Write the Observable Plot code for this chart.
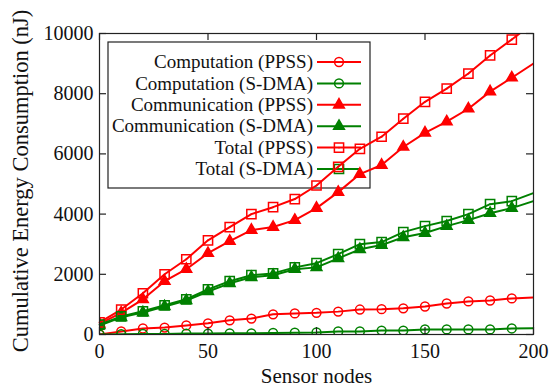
<!DOCTYPE html>
<html><head><meta charset="utf-8">
<script src="https://cdn.jsdelivr.net/npm/d3@7"></script>
<script src="https://cdn.jsdelivr.net/npm/@observablehq/plot@0.6"></script>
<style>body{margin:0;background:#fff}</style>
</head><body><div id="chart"></div>
<script>
// ---- data ----
const nodes = [0,10,20,30,40,50,60,70,80,90,100,110,120,130,140,150,160,170,180,190,200];
const compPPSS  = [0,100,200,230,300,370,470,530,670,700,720,760,830,840,870,930,1030,1100,1130,1200,1230];
const compSDMA  = [0,10,20,20,30,30,40,40,50,60,70,100,100,130,130,170,170,170,170,200,210];
const commPPSS  = [350,720,1170,1770,2170,2700,3100,3470,3570,3800,4200,4730,5330,5630,6230,6700,7070,7500,8070,8530,9000];
const commSDMA  = [300,570,730,930,1130,1430,1700,1900,1970,2170,2230,2530,2830,2970,3230,3370,3600,3800,4030,4200,4430];
const totalPPSS = [400,830,1370,2000,2500,3130,3570,4000,4230,4500,4950,5570,6170,6570,7170,7730,8170,8670,9270,9800,10350];
const totalSDMA = [330,600,770,970,1170,1500,1770,1970,2030,2230,2370,2670,3000,3070,3400,3600,3770,4000,4330,4430,4700];
const seriesNames = ["Computation (PPSS)","Computation (S-DMA)","Communication (PPSS)","Communication (S-DMA)","Total (PPSS)","Total (S-DMA)"];
const xTicks = [0,50,100,150,200];
const yTicks = [0,2000,4000,6000,8000,10000];
const xLabel = "Sensor nodes";
const yLabel = "Cumulative Energy Consumption (nJ)";

// ---- styling ----
const RED = "#ff0000", GREEN = "#008000";
const FONT = "'Liberation Serif', 'Times New Roman', serif";
const series = [
  {name: seriesNames[0], values: compPPSS,  color: RED,   symbol: "circle"},
  {name: seriesNames[1], values: compSDMA,  color: GREEN, symbol: "circle"},
  {name: seriesNames[2], values: commPPSS,  color: RED,   symbol: "triangle"},
  {name: seriesNames[3], values: commSDMA,  color: GREEN, symbol: "triangle"},
  {name: seriesNames[4], values: totalPPSS, color: RED,   symbol: "square"},
  {name: seriesNames[5], values: totalSDMA, color: GREEN, symbol: "square"}
];
const symR = {circle: 4.4, triangle: 4, square: 5.2};
const W = 549, H = 387, mL = 99, mR = 16, mT = 33, mB = 53;
const plotW = W - mL - mR, plotH = H - mT - mB;
const TL = 7;

const marks = [];
for (const s of series) {
  const data = nodes.map((x, i) => ({x, y: s.values[i]}));
  const pts = data.filter(d => d.x < 200);
  marks.push(Plot.line(data, {x: "x", y: "y", stroke: s.color, strokeWidth: 2, clip: true}));
  const filled = s.symbol === "triangle";
  marks.push(Plot.dot(pts, {x: "x", y: "y", symbol: s.symbol, r: symR[s.symbol],
    stroke: s.color, strokeWidth: 1.5, fill: filled ? s.color : "none", clip: true}));
  if (s.symbol === "square") {
    marks.push(Plot.dot(pts, {x: "x", y: "y", r: 0.9, fill: s.color, stroke: "none"}));
  }
}

const chart = Plot.plot({
  width: W, height: H,
  marginLeft: mL, marginRight: mR, marginTop: mT, marginBottom: mB,
  style: {fontFamily: FONT, fontSize: "20px", color: "#111", background: "#fff"},
  x: {domain: [0, 200], axis: null},
  y: {domain: [0, 10000], axis: null},
  marks: [
    ...marks,
    Plot.frame({stroke: "#222", strokeWidth: 1.2}),
    Plot.tickX(xTicks, {x: d => d, insetTop: plotH - TL, stroke: "#222", strokeWidth: 1.2}),
    Plot.tickX(xTicks, {x: d => d, insetBottom: plotH - TL, stroke: "#222", strokeWidth: 1.2}),
    Plot.tickY(yTicks, {y: d => d, insetRight: plotW - TL, stroke: "#222", strokeWidth: 1.2}),
    Plot.tickY(yTicks, {y: d => d, insetLeft: plotW - TL, stroke: "#222", strokeWidth: 1.2}),
    Plot.axisX({ticks: xTicks, tickSize: 0, tickPadding: 9, label: null, fontSize: 20}),
    Plot.axisY({ticks: yTicks, tickSize: 0, tickPadding: 6, label: null, fontSize: 20, tickFormat: d => String(d)}),
    Plot.text([xLabel], {frameAnchor: "bottom", lineAnchor: "middle", dy: 42, fontSize: 21, textAnchor: "middle"}),
    Plot.text([yLabel], {frameAnchor: "left", lineAnchor: "middle", rotate: -90, dx: -79, dy: -3, fontSize: 22.5, textAnchor: "middle"})
  ]
});

// ---- legend (drawn beneath the data, transparent box) ----
const svg = d3.select(chart);
const lg = svg.insert("g", "g");
lg.append("rect").attr("x", 108).attr("y", 42).attr("width", 262).attr("height", 146)
  .attr("fill", "none").attr("stroke", "#222").attr("stroke-width", 1.2);
series.forEach((s, i) => {
  const cy = 62 + i * 21.4;
  lg.append("text").attr("x", 313).attr("y", cy).attr("dy", "0.33em")
    .attr("text-anchor", "end").attr("font-size", 19).attr("font-family", FONT).attr("fill", "#111")
    .text(s.name);
  lg.append("line").attr("x1", 317).attr("x2", 361).attr("y1", cy).attr("y2", cy)
    .attr("stroke", s.color).attr("stroke-width", 2);
  const r = symR[s.symbol];
  const sym = {circle: d3.symbolCircle, triangle: d3.symbolTriangle, square: d3.symbolSquare}[s.symbol];
  lg.append("path").attr("transform", `translate(339,${cy})`)
    .attr("d", d3.symbol(sym, Math.PI * r * r)())
    .attr("fill", s.symbol === "triangle" ? s.color : "none")
    .attr("stroke", s.color).attr("stroke-width", 1.5);
  if (s.symbol === "square") {
    lg.append("circle").attr("cx", 339).attr("cy", cy).attr("r", 0.9).attr("fill", s.color);
  }
});

document.getElementById("chart").appendChild(chart);
</script>
</body></html>
